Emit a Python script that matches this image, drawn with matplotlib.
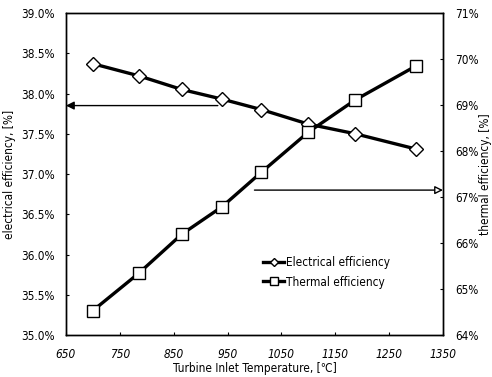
import matplotlib
matplotlib.use("Agg")
import matplotlib.pyplot as plt
from matplotlib.ticker import FuncFormatter

temps = [700, 785, 865, 940, 1013, 1100, 1187, 1300]
elec_eff = [38.37, 38.22, 38.05, 37.93, 37.80, 37.62, 37.50, 37.31]
therm_eff = [64.53, 65.34, 66.19, 66.79, 67.54, 68.41, 69.11, 69.85]
x_ticks = [650, 750, 850, 950, 1050, 1150, 1250, 1350]
left_ticks = [35.0, 35.5, 36.0, 36.5, 37.0, 37.5, 38.0, 38.5, 39.0]
right_ticks = [64, 65, 66, 67, 68, 69, 70, 71]

plt.rcParams['font.family'] = ['DejaVu Sans']
plt.rcParams['font.stretch'] = 'condensed'
fs = 8.5
fig = plt.figure(figsize=(4.92, 3.77), dpi=100)
ax = fig.add_axes([0.134, 0.1114, 0.7664, 0.8541])
ax2 = ax.twinx()

l1, = ax.plot(temps, elec_eff, color='black', lw=2.4, marker='D', ms=7,
              mfc='white', mec='black', mew=1.0, label='Electrical efficiency')
l2, = ax2.plot(temps, therm_eff, color='black', lw=2.4, marker='s', ms=9,
               mfc='white', mec='black', mew=1.0, label='Thermal efficiency')

ax.set_xlim(650, 1350)
ax.set_ylim(35.0, 39.0)
ax2.set_ylim(64, 71)
ax.set_xticks(x_ticks)
ax.set_yticks(left_ticks)
ax2.set_yticks(right_ticks)
ax.yaxis.set_major_formatter(FuncFormatter(lambda v, p: f"{v:.1f}%"))
ax2.yaxis.set_major_formatter(FuncFormatter(lambda v, p: f"{v:.0f}%"))
for lab in ax.get_xticklabels():
    lab.set_fontstyle('italic')
ax.tick_params(axis='x', labelsize=fs, length=2, direction='in', pad=9)
ax.tick_params(axis='y', labelsize=fs, length=2, direction='in', pad=8)
ax2.tick_params(axis='y', labelsize=fs, length=2, direction='in', pad=9)

ax.set_xlabel('Turbine Inlet Temperature, [\u2103]', fontsize=fs, labelpad=1)
ax.set_ylabel('electrical efficiency, [%]', fontsize=fs, labelpad=4)
ax2.set_ylabel('thermal efficiency, [%]', fontsize=fs, rotation=90,
               va='center', ha='center')
ax2.yaxis.set_label_coords(1.1125, 0.5)

# arrows
ax.annotate('', xy=(650, 37.85), xytext=(932, 37.85),
            arrowprops=dict(arrowstyle='-|>', color='black', lw=1.0,
                            mutation_scale=12, shrinkA=0, shrinkB=0))
ax2.annotate('', xy=(1350, 67.15), xytext=(1000, 67.15),
             arrowprops=dict(arrowstyle='-|>', color='black', lw=1.0,
                             mutation_scale=12, shrinkA=0, shrinkB=0, fc='white'))

ax.legend(handles=[l1, l2], loc='upper left', bbox_to_anchor=(0.523, 0.245),
          frameon=False, fontsize=fs, handlelength=1.8, handletextpad=0.1,
          labelspacing=0.55, markerscale=0.65, borderpad=0, borderaxespad=0)

for a in (ax, ax2):
    for s in a.spines.values():
        s.set_linewidth(1.0)

fig.savefig('out.png', dpi=100)
